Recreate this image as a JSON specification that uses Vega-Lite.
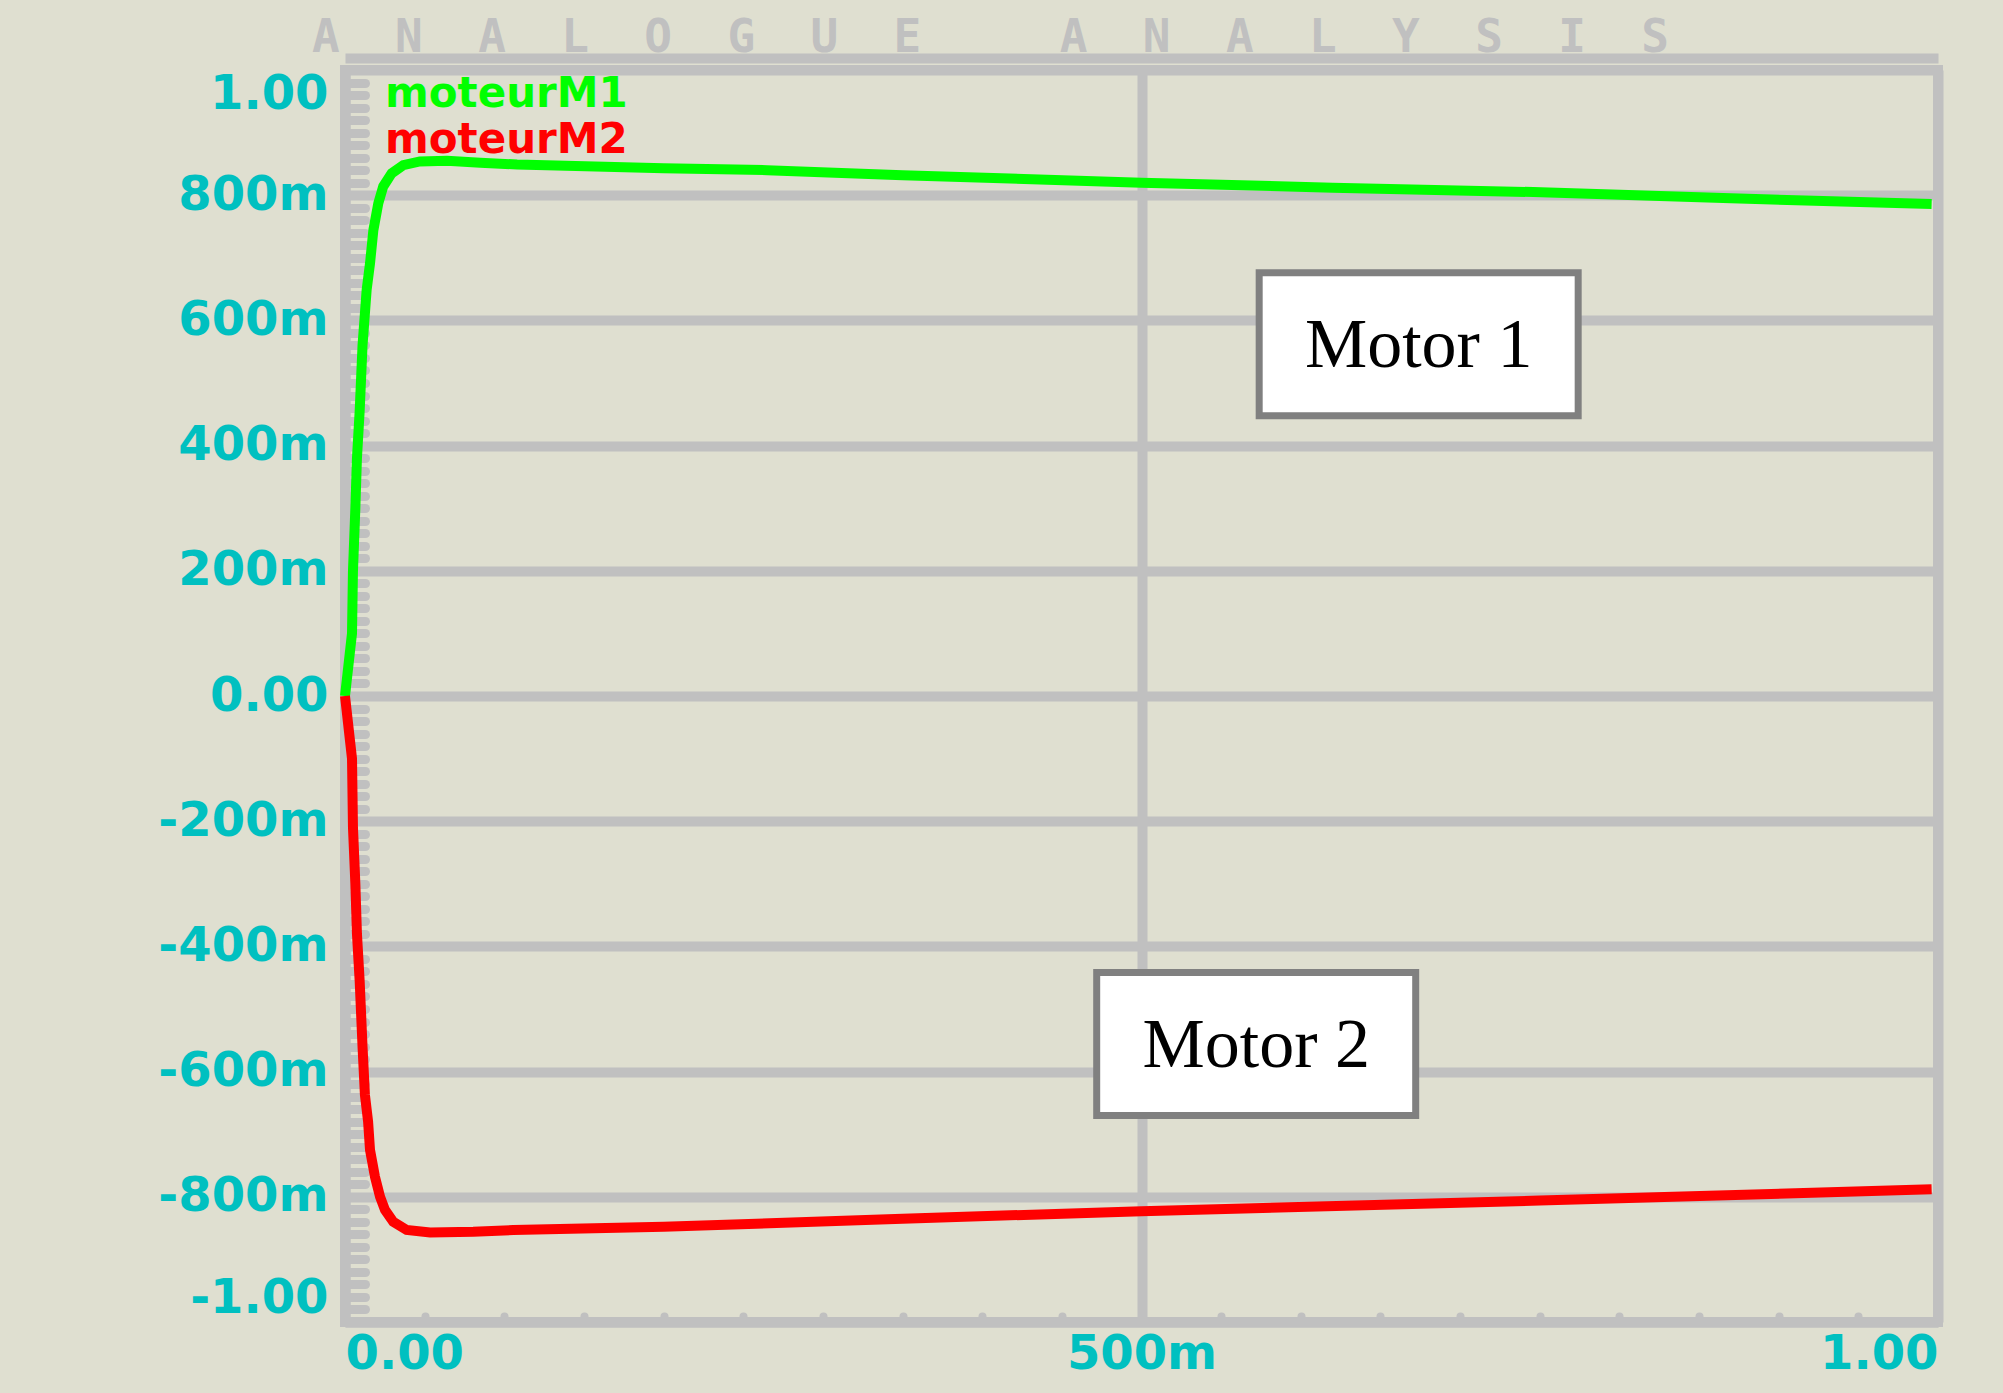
{
  "$schema": "https://vega.github.io/schema/vega-lite/v6.json",
  "width": 1593,
  "height": 1252,
  "autosize": {"type": "none"},
  "padding": {"left": 345, "top": 70, "right": 65, "bottom": 71},
  "background": "#dfdfd0",
  "title": {
    "text": "A\u00a0\u00a0N\u00a0\u00a0A\u00a0\u00a0L\u00a0\u00a0O\u00a0\u00a0G\u00a0\u00a0U\u00a0\u00a0E\u00a0\u00a0\u00a0\u00a0\u00a0A\u00a0\u00a0N\u00a0\u00a0A\u00a0\u00a0L\u00a0\u00a0Y\u00a0\u00a0S\u00a0\u00a0I\u00a0\u00a0S",
    "font": "DejaVu Sans Mono",
    "fontSize": 46,
    "fontWeight": "bold",
    "color": "#c0c0c0",
    "anchor": "start",
    "frame": "group",
    "dx": -33,
    "baseline": "alphabetic",
    "offset": -40
  },
  "config": {
    "view": {"stroke": "#c0c0c0", "strokeWidth": 10, "fill": "#dfdfd0"}
  },
  "datasets": {
    "curves": [
      {"t": 0, "v": 0, "series": "moteurM1"},
      {"t": 0.0044, "v": 0.10, "series": "moteurM1"},
      {"t": 0.0050, "v": 0.20, "series": "moteurM1"},
      {"t": 0.0065, "v": 0.30, "series": "moteurM1"},
      {"t": 0.0075, "v": 0.38, "series": "moteurM1"},
      {"t": 0.0092, "v": 0.455, "series": "moteurM1"},
      {"t": 0.0110, "v": 0.56, "series": "moteurM1"},
      {"t": 0.0136, "v": 0.649, "series": "moteurM1"},
      {"t": 0.0157, "v": 0.691, "series": "moteurM1"},
      {"t": 0.0178, "v": 0.744, "series": "moteurM1"},
      {"t": 0.0209, "v": 0.787, "series": "moteurM1"},
      {"t": 0.024, "v": 0.814, "series": "moteurM1"},
      {"t": 0.0293, "v": 0.835, "series": "moteurM1"},
      {"t": 0.0366, "v": 0.848, "series": "moteurM1"},
      {"t": 0.047, "v": 0.854, "series": "moteurM1"},
      {"t": 0.064, "v": 0.855, "series": "moteurM1"},
      {"t": 0.085, "v": 0.852, "series": "moteurM1"},
      {"t": 0.108, "v": 0.849, "series": "moteurM1"},
      {"t": 0.2, "v": 0.843, "series": "moteurM1"},
      {"t": 0.265, "v": 0.840, "series": "moteurM1"},
      {"t": 0.35, "v": 0.832, "series": "moteurM1"},
      {"t": 0.5, "v": 0.820, "series": "moteurM1"},
      {"t": 0.62, "v": 0.812, "series": "moteurM1"},
      {"t": 0.746, "v": 0.805, "series": "moteurM1"},
      {"t": 0.87, "v": 0.795, "series": "moteurM1"},
      {"t": 0.996, "v": 0.786, "series": "moteurM1"},
      {"t": 0, "v": 0, "series": "moteurM2"},
      {"t": 0.0044, "v": -0.10, "series": "moteurM2"},
      {"t": 0.0050, "v": -0.21, "series": "moteurM2"},
      {"t": 0.0065, "v": -0.30, "series": "moteurM2"},
      {"t": 0.0075, "v": -0.38, "series": "moteurM2"},
      {"t": 0.0092, "v": -0.455, "series": "moteurM2"},
      {"t": 0.0110, "v": -0.56, "series": "moteurM2"},
      {"t": 0.0125, "v": -0.637, "series": "moteurM2"},
      {"t": 0.0145, "v": -0.68, "series": "moteurM2"},
      {"t": 0.0157, "v": -0.725, "series": "moteurM2"},
      {"t": 0.0188, "v": -0.768, "series": "moteurM2"},
      {"t": 0.022, "v": -0.800, "series": "moteurM2"},
      {"t": 0.0251, "v": -0.821, "series": "moteurM2"},
      {"t": 0.0303, "v": -0.840, "series": "moteurM2"},
      {"t": 0.0387, "v": -0.853, "series": "moteurM2"},
      {"t": 0.0534, "v": -0.857, "series": "moteurM2"},
      {"t": 0.0805, "v": -0.856, "series": "moteurM2"},
      {"t": 0.1057, "v": -0.853, "series": "moteurM2"},
      {"t": 0.2, "v": -0.848, "series": "moteurM2"},
      {"t": 0.35, "v": -0.835, "series": "moteurM2"},
      {"t": 0.5, "v": -0.823, "series": "moteurM2"},
      {"t": 0.75, "v": -0.806, "series": "moteurM2"},
      {"t": 0.996, "v": -0.788, "series": "moteurM2"}
    ],
    "notes": [
      {"t": 0.674, "v": 0.562, "label": "Motor 1"},
      {"t": 0.572, "v": -0.556, "label": "Motor 2"}
    ]
  },
  "layer": [
    {
      "data": {"name": "curves"},
      "mark": {"type": "line", "strokeWidth": 10, "strokeJoin": "miter", "strokeCap": "butt"},
      "encoding": {
        "x": {
          "field": "t",
          "type": "quantitative",
          "scale": {"domain": [0, 1], "nice": false, "zero": false},
          "axis": {
            "orient": "bottom",
            "tickCount": 20,
            "labelExpr": "abs(datum.value*2 - round(datum.value*2)) > 0.000001 ? '' : (datum.value < 0.000001 ? '0.00' : (datum.value > 0.999 ? '1.00' : '500m'))",
            "labelFlush": true,
            "labelOverlap": false,
            "labelBound": false,
            "labelFont": "DejaVu Sans",
            "labelFontWeight": "bold",
            "labelFontSize": 48,
            "labelColor": "#00c0c0",
            "labelPadding": 14,
            "tickSize": -6,
            "tickWidth": 8,
            "tickColor": "#c0c0c0",
            "tickCap": "round",
            "domainColor": "#c0c0c0",
            "domainWidth": 10,
            "grid": true,
            "gridColor": "#c0c0c0",
            "gridWidth": 10,
            "gridOpacity": {"condition": {"test": "abs(datum.value*2 - round(datum.value*2)) < 0.000001", "value": 1}, "value": 0},
            "title": null
          }
        },
        "y": {
          "field": "v",
          "type": "quantitative",
          "scale": {"domain": [-1, 1], "nice": false, "zero": false},
          "axis": {
            "orient": "left",
            "tickCount": 100,
            "labelExpr": "abs(datum.value*5 - round(datum.value*5)) > 0.000001 ? '' : (abs(datum.value) > 0.999 ? (datum.value < 0 ? '-1.00' : '1.00') : (abs(datum.value) < 0.000001 ? '0.00' : round(datum.value*1000) + 'm'))",
            "labelFlush": true,
            "labelOverlap": false,
            "labelBound": false,
            "labelFont": "DejaVu Sans",
            "labelFontWeight": "bold",
            "labelFontSize": 48,
            "labelColor": "#00c0c0",
            "labelPadding": 37,
            "tickSize": -20,
            "tickWidth": 9,
            "tickColor": "#c0c0c0",
            "tickCap": "round",
            "domainColor": "#c0c0c0",
            "domainWidth": 10,
            "grid": true,
            "gridColor": "#c0c0c0",
            "gridWidth": 10,
            "gridOpacity": {"condition": {"test": "abs(datum.value*5 - round(datum.value*5)) < 0.000001", "value": 1}, "value": 0},
            "title": null
          }
        },
        "color": {
          "field": "series",
          "type": "nominal",
          "scale": {"domain": ["moteurM1", "moteurM2"], "range": ["#00ff00", "#ff0000"]},
          "legend": {
            "orient": "none",
            "legendX": -2,
            "legendY": 17,
            "title": null,
            "symbolSize": 0,
            "symbolOpacity": 0,
            "symbolStrokeWidth": 0,
            "labelOffset": 0,
            "labelFont": "DejaVu Sans",
            "labelFontWeight": "bold",
            "labelFontSize": 42,
            "labelBaseline": "alphabetic",
            "labelLimit": 800,
            "clipHeight": 40,
            "rowPadding": -8,
            "padding": 0,
            "encode": {"labels": {"update": {"fill": {"scale": "color", "field": "value"}}}}
          }
        }
      }
    },
    {
      "data": {"name": "notes"},
      "mark": {
        "type": "point",
        "shape": "M-1,-0.4483H1V0.4483H-1Z",
        "size": 101761,
        "filled": true,
        "fill": "#ffffff",
        "stroke": "#808080",
        "strokeWidth": 7,
        "opacity": 1
      },
      "encoding": {
        "x": {
          "field": "t",
          "type": "quantitative",
          "axis": {
            "orient": "top",
            "offset": 12,
            "domainColor": "#c0c0c0",
            "domainWidth": 10,
            "ticks": false,
            "labels": false,
            "grid": false,
            "title": null
          }
        },
        "y": {"field": "v", "type": "quantitative", "axis": null}
      }
    },
    {
      "data": {"name": "notes"},
      "mark": {
        "type": "text",
        "font": "Liberation Serif",
        "fontSize": 70,
        "color": "#000000",
        "align": "center",
        "baseline": "alphabetic",
        "dy": 23
      },
      "encoding": {
        "x": {"field": "t", "type": "quantitative", "axis": null},
        "y": {"field": "v", "type": "quantitative", "axis": null},
        "text": {"field": "label", "type": "nominal"}
      }
    }
  ],
  "resolve": {"axis": {"x": "independent", "y": "independent"}}
}
